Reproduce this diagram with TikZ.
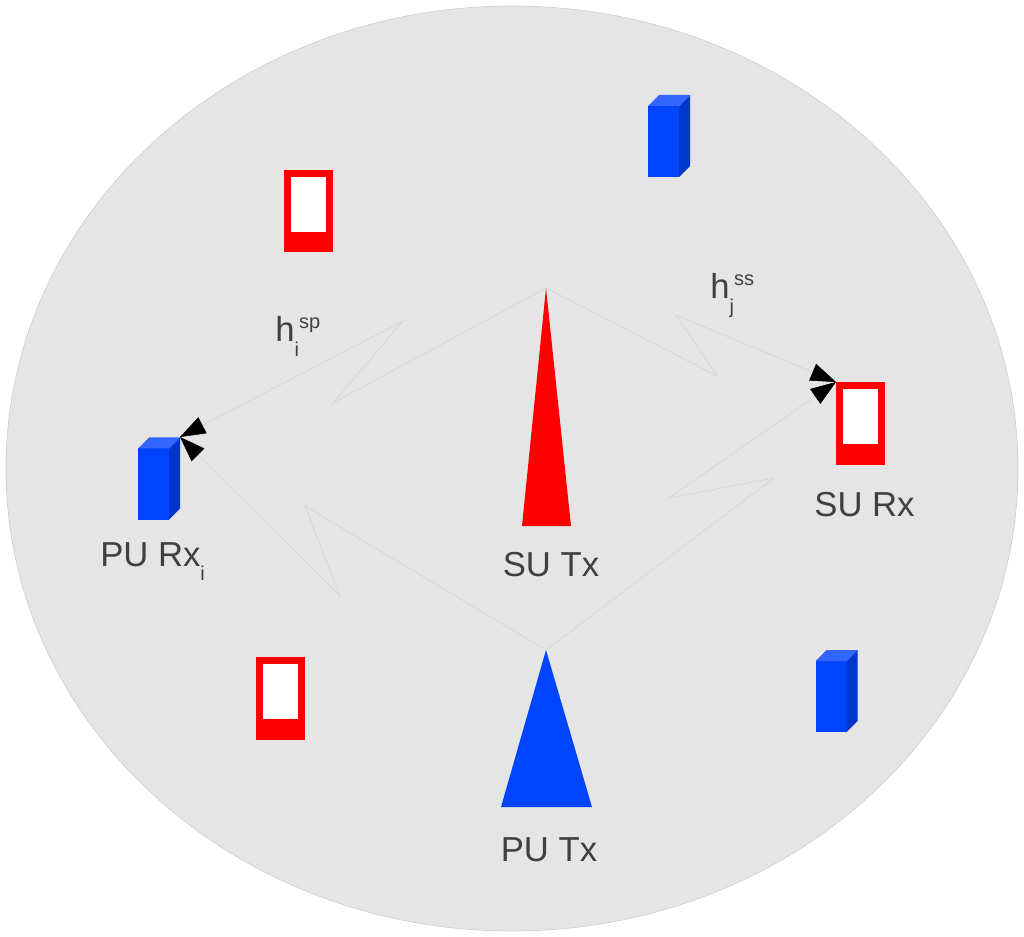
\documentclass[tikz,border=0pt]{standalone}
\usepackage{fontspec}
\setmainfont{Liberation Sans}
\usepackage{tikz}
\usetikzlibrary{arrows.meta,shapes.geometric}

\definecolor{cellgrey}{HTML}{E5E5E5}
\definecolor{cellline}{HTML}{CFCFCF}
\definecolor{linkgrey}{HTML}{D2D2D2}
\definecolor{labgrey}{HTML}{404040}
\definecolor{pufront}{HTML}{0044FF}
\definecolor{puside}{HTML}{0036CC}
\definecolor{putop}{HTML}{3366FF}

\newcommand{\subfont}{\fontsize{15}{15}\selectfont}
\newcommand{\labsub}[1]{\raisebox{-11pt}{\subfont #1}}
\newcommand{\labsup}[1]{\raisebox{9.75pt}{\subfont #1}}

\begin{document}
\begin{tikzpicture}[x=0.75pt,y=-0.75pt]

\tikzset{labnode/.style={font=\fontsize{26}{30}\selectfont,text=labgrey,inner sep=0,anchor=base},
linknode/.style={draw=linkgrey,line width=0.4pt,line join=miter},
tipnode/.style={-{Triangle[length=19pt,width=13.5pt,black]}},
pubox/.pic={
	\fill[pufront] (0,0) rectangle (31,71);
	\fill[puside] (31,0) -- (42,-11) -- (42,60) -- (31,71) -- cycle;
	\fill[putop] (0,0) -- (11,-11) -- (42,-11) -- (31,0) -- cycle;
},
suphone/.pic={
	\fill[red] (0,0) rectangle (49,82.5);
	\fill[white] (7,7) rectangle (42,62);
}}

\useasboundingbox (0,0) rectangle (1024,937);

% Cell
\node (cell) [ellipse,draw=cellline,fill=cellgrey,line width=0.5pt,minimum width=759pt,minimum height=693.75pt,inner sep=0,outer sep=0] at (512,468.5) {};

% Transmitters
\coordinate (suTx) at (546,288);
\coordinate (puTx) at (546,650);
\fill[red] (suTx) -- (571,526) -- (522,526) -- cycle;
\fill[pufront] (puTx) -- (592,807) -- (501,807) -- cycle;

% Receivers
\foreach \u/\x/\y in {puA/138/448.5, puB/648/106, puC/815.5/661} \pic (\u) at (\x,\y) {pubox};
\foreach \u/\x/\y in {suA/284/170, suB/836/382.5, suC/256/657} \pic (\u) at (\x,\y) {suphone};

% Link end points
\coordinate (puRx) at (180,437);
\coordinate (suRx) at (836,382);

% Bends
\coordinate (spa) at (333,403);
\coordinate (spb) at (403,321);
\coordinate (ssa) at (717,376);
\coordinate (ssb) at (676,315);
\coordinate (ppa) at (305,506);
\coordinate (ppb) at (340,596);
\coordinate (psa) at (774,478);
\coordinate (psb) at (669,498);

%% Links
\foreach \from/\a/\b/\to in {
	suTx/spa/spb/puRx, suTx/ssa/ssb/suRx,
	puTx/ppa/ppb/puRx, puTx/psa/psb/suRx%
}
	\draw[linknode,tipnode] (\from) -- (\a) -- (\b) -- (\to);

% Labels
\node (suTxLab) [labnode] at (551,576) {SU Tx};
\node (puTxLab) [labnode] at (549,861) {PU Tx};
\node (suRxLab) [labnode] at (864.5,516) {SU Rx};
\node (puRxLab) [labnode,anchor=base west] at (100,566) {PU Rx\labsub{i}};
\node (spLab) [labnode,anchor=base west] at (275,342) {h\rlap{\labsub{i}}\kern3.5pt\labsup{sp}};
\node (ssLab) [labnode,anchor=base west] at (710,299) {h\rlap{\labsub{j}}\kern3.5pt\labsup{ss}};
\end{tikzpicture}
\end{document}
